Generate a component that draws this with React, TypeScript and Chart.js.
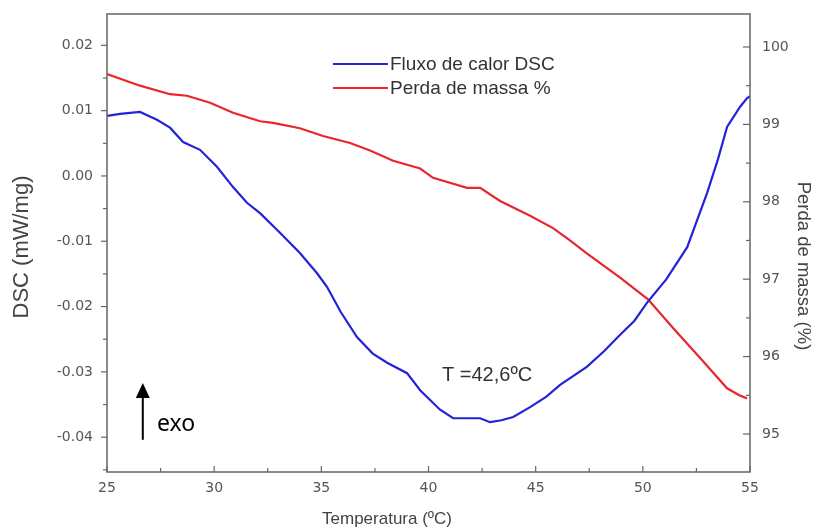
import React, { useEffect, useRef } from 'react';
import { Chart, registerables } from 'chart.js';

Chart.register(...registerables);

// ---- data ----
const dscTemps = [25.0, 25.61, 26.54, 27.33, 27.94, 28.55, 29.34, 30.13, 30.88, 31.53, 32.14, 33.07, 34.0, 34.8, 35.27, 35.9, 36.67, 37.4, 38.07, 39.0, 39.61, 40.54, 41.15, 41.8, 42.41, 42.87, 43.4, 43.95, 44.74, 45.5, 46.14, 47.4, 48.2, 48.94, 49.6, 50.2, 51.1, 52.07, 53.0, 53.5, 53.93, 54.54, 54.86, 55.0];
const dscValues = [0.0092, 0.0095, 0.0098, 0.0086, 0.0074, 0.0052, 0.004, 0.0014, -0.0017, -0.0041, -0.0057, -0.0087, -0.0118, -0.0149, -0.017, -0.0208, -0.0247, -0.0272, -0.0286, -0.0302, -0.0328, -0.0358, -0.0371, -0.0371, -0.0371, -0.0377, -0.0374, -0.0369, -0.0354, -0.0338, -0.032, -0.0292, -0.0268, -0.0243, -0.0222, -0.0194, -0.0158, -0.0109, -0.0026, 0.0025, 0.0075, 0.0106, 0.0119, 0.0122];
const massTemps = [25.0, 26.54, 27.94, 28.73, 29.81, 30.88, 32.14, 32.75, 34.0, 35.08, 36.34, 37.3, 38.35, 39.61, 40.21, 41.8, 42.41, 43.34, 44.74, 45.81, 46.6, 47.4, 48.94, 50.24, 51.41, 52.81, 53.93, 54.5, 54.86];
const massValues = [99.65, 99.5, 99.39, 99.37, 99.28, 99.15, 99.04, 99.02, 98.95, 98.85, 98.76, 98.66, 98.53, 98.43, 98.31, 98.18, 98.18, 98.01, 97.82, 97.66, 97.5, 97.33, 97.02, 96.74, 96.37, 95.94, 95.59, 95.5, 95.46];

const xTicks = [25, 30, 35, 40, 45, 50, 55];
const dscTicks = [-0.04, -0.03, -0.02, -0.01, 0, 0.01, 0.02];
const massTicks = [95, 96, 97, 98, 99, 100];

const seriesLabels = ['Fluxo de calor DSC', 'Perda de massa %'];
const xTitle = 'Temperatura (ºC)';
const dscTitle = 'DSC (mW/mg)';
const massTitle = 'Perda de massa (%)';
const peakLabel = 'T =42,6ºC';
const exoLabel = 'exo';

const TITLE_FAMILY = '"Liberation Sans", Arial, sans-serif';

const overlayPlugin = {
  id: 'overlay',
  afterDraw(chart: any) {
    const { ctx, chartArea } = chart;
    const { left, right, top, bottom } = chartArea;
    const x = chart.scales.x;
    const y = chart.scales.y;
    const y1 = chart.scales.y1;
    ctx.save();
    ctx.strokeStyle = '#666';
    ctx.lineWidth = 1.5;
    ctx.strokeRect(left, top, right - left, bottom - top);
    ctx.lineWidth = 1.2;
    const seg = (a: number, b: number, c: number, d: number) => {
      ctx.beginPath();
      ctx.moveTo(a, b);
      ctx.lineTo(c, d);
      ctx.stroke();
    };
    // bottom ticks (inward)
    for (let i = 0; i <= 12; i++) {
      const v = 25 + i * 2.5;
      const px = x.getPixelForValue(v);
      seg(px, bottom, px, bottom - (i % 2 === 0 ? 6 : 4));
    }
    // left ticks (outward)
    for (let i = -9; i <= 4; i++) {
      const v = i * 0.005;
      if (v < y.min || v > y.max) continue;
      const py = y.getPixelForValue(v);
      seg(left, py, left - (i % 2 === 0 ? 6 : 4), py);
    }
    // right ticks (inward)
    for (let i = 189; i <= 200; i++) {
      const v = i * 0.5;
      if (v < y1.min || v > y1.max) continue;
      const py = y1.getPixelForValue(v);
      seg(right, py, right - (i % 2 === 0 ? 7 : 4), py);
    }
    // axis titles
    ctx.fillStyle = '#444';
    ctx.textAlign = 'center';
    ctx.textBaseline = 'middle';
    ctx.font = '17px ' + TITLE_FAMILY;
    ctx.fillText(xTitle, 387, 519);
    ctx.save();
    ctx.translate(22, 247);
    ctx.rotate(-Math.PI / 2);
    ctx.font = '22px ' + TITLE_FAMILY;
    ctx.fillText(dscTitle, 0, 0);
    ctx.restore();
    ctx.save();
    ctx.translate(803, 266);
    ctx.rotate(Math.PI / 2);
    ctx.font = '18.5px ' + TITLE_FAMILY;
    ctx.fillText(massTitle, 0, 0);
    ctx.restore();
    // legend
    chart.data.datasets.forEach((ds: any, i: number) => {
      const ly = 64 + i * 24;
      ctx.strokeStyle = ds.borderColor;
      ctx.lineWidth = 2;
      seg(333, ly, 388, ly);
      ctx.fillStyle = '#333';
      ctx.font = '19px ' + TITLE_FAMILY;
      ctx.textAlign = 'left';
      ctx.textBaseline = 'middle';
      ctx.fillText(ds.label, 390, ly + 1);
    });
    // peak label
    ctx.fillStyle = '#333';
    ctx.font = '20px ' + TITLE_FAMILY;
    ctx.textAlign = 'left';
    ctx.textBaseline = 'middle';
    ctx.fillText(peakLabel, x.getPixelForValue(40.63), y.getPixelForValue(-0.0305));
    // exo arrow
    const ax = x.getPixelForValue(26.67);
    const aTip = y.getPixelForValue(-0.0317);
    const aBase = y.getPixelForValue(-0.0404);
    ctx.strokeStyle = '#000';
    ctx.fillStyle = '#000';
    ctx.lineWidth = 2;
    seg(ax, aBase, ax, aTip + 12);
    ctx.beginPath();
    ctx.moveTo(ax, aTip);
    ctx.lineTo(ax - 7, aTip + 15);
    ctx.lineTo(ax + 7, aTip + 15);
    ctx.closePath();
    ctx.fill();
    ctx.font = '23px "Noto Sans", "Open Sans", sans-serif';
    ctx.fillText(exoLabel, x.getPixelForValue(27.33), y.getPixelForValue(-0.0381));
    ctx.restore();
  },
};

const fitVertical = (w: number) => (s: any) => {
  s.width = w;
  s.paddingTop = 0;
  s.paddingBottom = 0;
};

export default function App() {
  const ref = useRef<HTMLCanvasElement | null>(null);
  useEffect(() => {
    if (!ref.current) return;
    const tickFont = { family: '"DejaVu Sans", sans-serif', size: 14 };
    const chart = new Chart(ref.current, {
      type: 'line',
      data: {
        datasets: [
          {
            label: seriesLabels[0],
            data: dscTemps.map((t, i) => ({ x: t, y: dscValues[i] })),
            borderColor: '#2323d8',
            borderWidth: 2.2,
            pointRadius: 0,
            tension: 0,
            yAxisID: 'y',
          },
          {
            label: seriesLabels[1],
            data: massTemps.map((t, i) => ({ x: t, y: massValues[i] })),
            borderColor: '#e8262b',
            borderWidth: 2.2,
            pointRadius: 0,
            tension: 0,
            yAxisID: 'y1',
          },
        ],
      },
      options: {
        responsive: false,
        animation: false,
        layout: { padding: { top: 14, left: 0, right: 0, bottom: 0 } },
        plugins: { legend: { display: false }, tooltip: { enabled: false } },
        scales: {
          x: {
            type: 'linear',
            min: 25,
            max: 55,
            afterFit: (s: any) => { s.height = 59; s.paddingLeft = 0; s.paddingRight = 0; },
            afterBuildTicks: (s: any) => { s.ticks = xTicks.map((v) => ({ value: v })); },
            grid: { display: false, drawTicks: false },
            border: { display: false },
            ticks: { color: '#555', font: tickFont, padding: 8, autoSkip: false, maxRotation: 0, callback: (v: any) => String(v) },
            title: { display: false },
          },
          y: {
            type: 'linear',
            position: 'left',
            min: -0.04533,
            max: 0.0248,
            afterFit: fitVertical(107),
            afterBuildTicks: (s: any) => { s.ticks = dscTicks.map((v) => ({ value: v })); },
            grid: { display: false, drawTicks: false },
            border: { display: false },
            ticks: { color: '#555', font: tickFont, padding: 14, callback: (v: any) => Number(v).toFixed(2) },
            title: { display: false },
          },
          y1: {
            type: 'linear',
            position: 'right',
            min: 94.509,
            max: 100.426,
            afterFit: fitVertical(66),
            afterBuildTicks: (s: any) => { s.ticks = massTicks.map((v) => ({ value: v })); },
            grid: { display: false, drawTicks: false },
            border: { display: false },
            ticks: { color: '#555', font: tickFont, padding: 12, callback: (v: any) => String(v) },
            title: { display: false },
          },
        },
      },
      plugins: [overlayPlugin],
    } as any);
    return () => chart.destroy();
  }, []);
  return (
    <div style={{ position: 'absolute', left: 0, top: 0, width: 816, height: 531, background: '#fff' }}>
      <canvas ref={ref} width={816} height={531} />
    </div>
  );
}
